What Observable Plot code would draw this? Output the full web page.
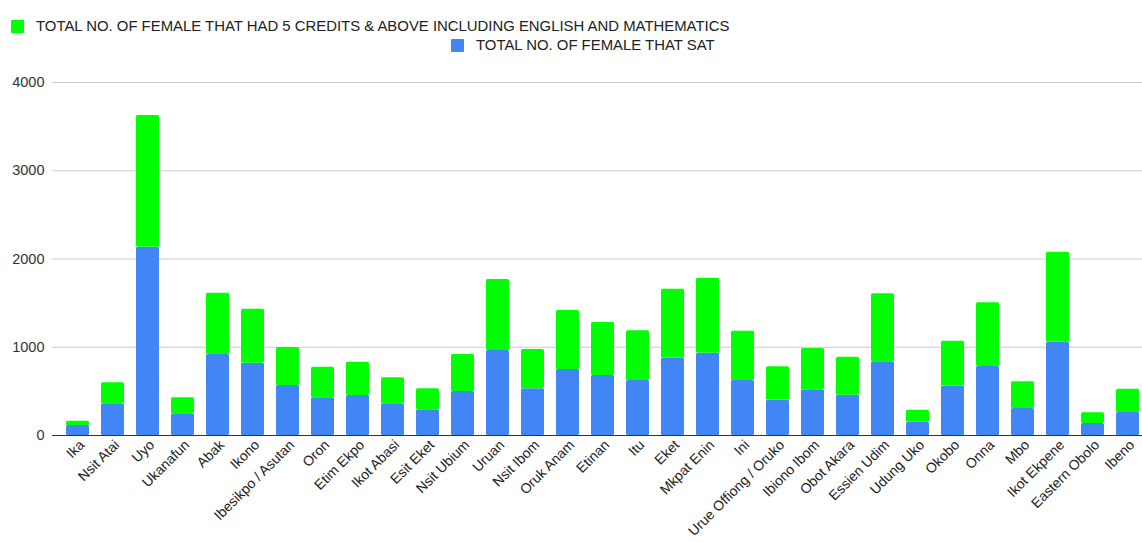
<!DOCTYPE html>
<html>
<head>
<meta charset="utf-8">
<script src="https://cdn.jsdelivr.net/npm/d3@7"></script>
<script src="https://cdn.jsdelivr.net/npm/@observablehq/plot@0.6"></script>
<style>
  html, body { margin: 0; padding: 0; background: #fff; }
  body { width: 1142px; height: 542px; overflow: hidden; font-family: "Liberation Sans", Arial, sans-serif; }
  #legend { position: relative; height: 60px; font-size: 14.9px; color: #222; }
  .item { position: absolute; display: flex; align-items: center; white-space: nowrap; }
  .sw { width: 13px; height: 13px; margin-right: 12px; border-radius: 1px; }
  #chart svg { display: block; }
</style>
</head>
<body>
<div id="legend">
  <div class="item" style="left:11px; top:18px;"><span class="sw" style="background:#00ff00"></span>TOTAL NO. OF FEMALE THAT HAD 5 CREDITS &amp; ABOVE INCLUDING ENGLISH AND MATHEMATICS</div>
  <div class="item" style="left:451px; top:37px;"><span class="sw" style="background:#4285f4"></span>TOTAL NO. OF FEMALE THAT SAT</div>
</div>
<div id="chart"></div>
<script>
const categories = ["Ika","Nsit Atai","Uyo","Ukanafun","Abak","Ikono","Ibesikpo / Asutan","Oron","Etim Ekpo","Ikot Abasi","Esit Eket","Nsit Ubium","Uruan","Nsit Ibom","Oruk Anam","Etinan","Itu","Eket","Mkpat Enin","Ini","Urue Offiong / Oruko","Ibiono Ibom","Obot Akara","Essien Udim","Udung Uko","Okobo","Onna","Mbo","Ikot Ekpene","Eastern Obolo","Ibeno"];
const sat = [113,359,2134,246,918,819,567,427,453,359,291,499,963,529,748,680,623,876,933,623,400,518,457,835,151,559,782,306,1057,136,261];
const credits = [49,238,1492,181,695,612,430,347,378,295,238,419,805,445,668,600,563,782,850,559,378,468,431,771,136,510,721,302,1020,121,264];
const seriesNames = ["TOTAL NO. OF FEMALE THAT SAT","TOTAL NO. OF FEMALE THAT HAD 5 CREDITS & ABOVE INCLUDING ENGLISH AND MATHEMATICS"];
const seriesColors = ["#4285f4","#00ff00"];
const yTicks = [0,1000,2000,3000,4000];

const rows = [];
categories.forEach((c,i) => {
  rows.push({district:c, series:seriesNames[0], value:sat[i]});
  rows.push({district:c, series:seriesNames[1], value:credits[i]});
});

const chart = Plot.plot({
  width: 1142,
  height: 482,
  marginLeft: 52,
  marginRight: 0,
  marginTop: 22,
  marginBottom: 107,
  style: {fontFamily: '"Liberation Sans", Arial, sans-serif', background: "#fff"},
  x: {domain: categories, range: [58, 1147], paddingInner: 0.35, paddingOuter: 0.175, label: null},
  y: {domain: [0, 4000], label: null},
  color: {domain: seriesNames, range: seriesColors},
  marks: [
    Plot.gridY(yTicks, {stroke: "#cccccc", strokeOpacity: 1, strokeWidth: 1}),
    Plot.barY(rows, Plot.stackY({x: "district", y: "value", fill: "series", order: seriesNames, rx: 1.5})),
    Plot.ruleY([0], {stroke: "#333", strokeWidth: 1}),
    Plot.axisY(yTicks, {tickSize: 0, tickPadding: 8, fontSize: 14.5, fill: "#333", label: null, tickFormat: d => String(d)}),
    Plot.axisX({tickSize: 0, tickPadding: 5, tickRotate: -45, fontSize: 14, fill: "#222", label: null, dx: 4, dy: 2})
  ]
});
document.getElementById("chart").appendChild(chart);
</script>
</body>
</html>
